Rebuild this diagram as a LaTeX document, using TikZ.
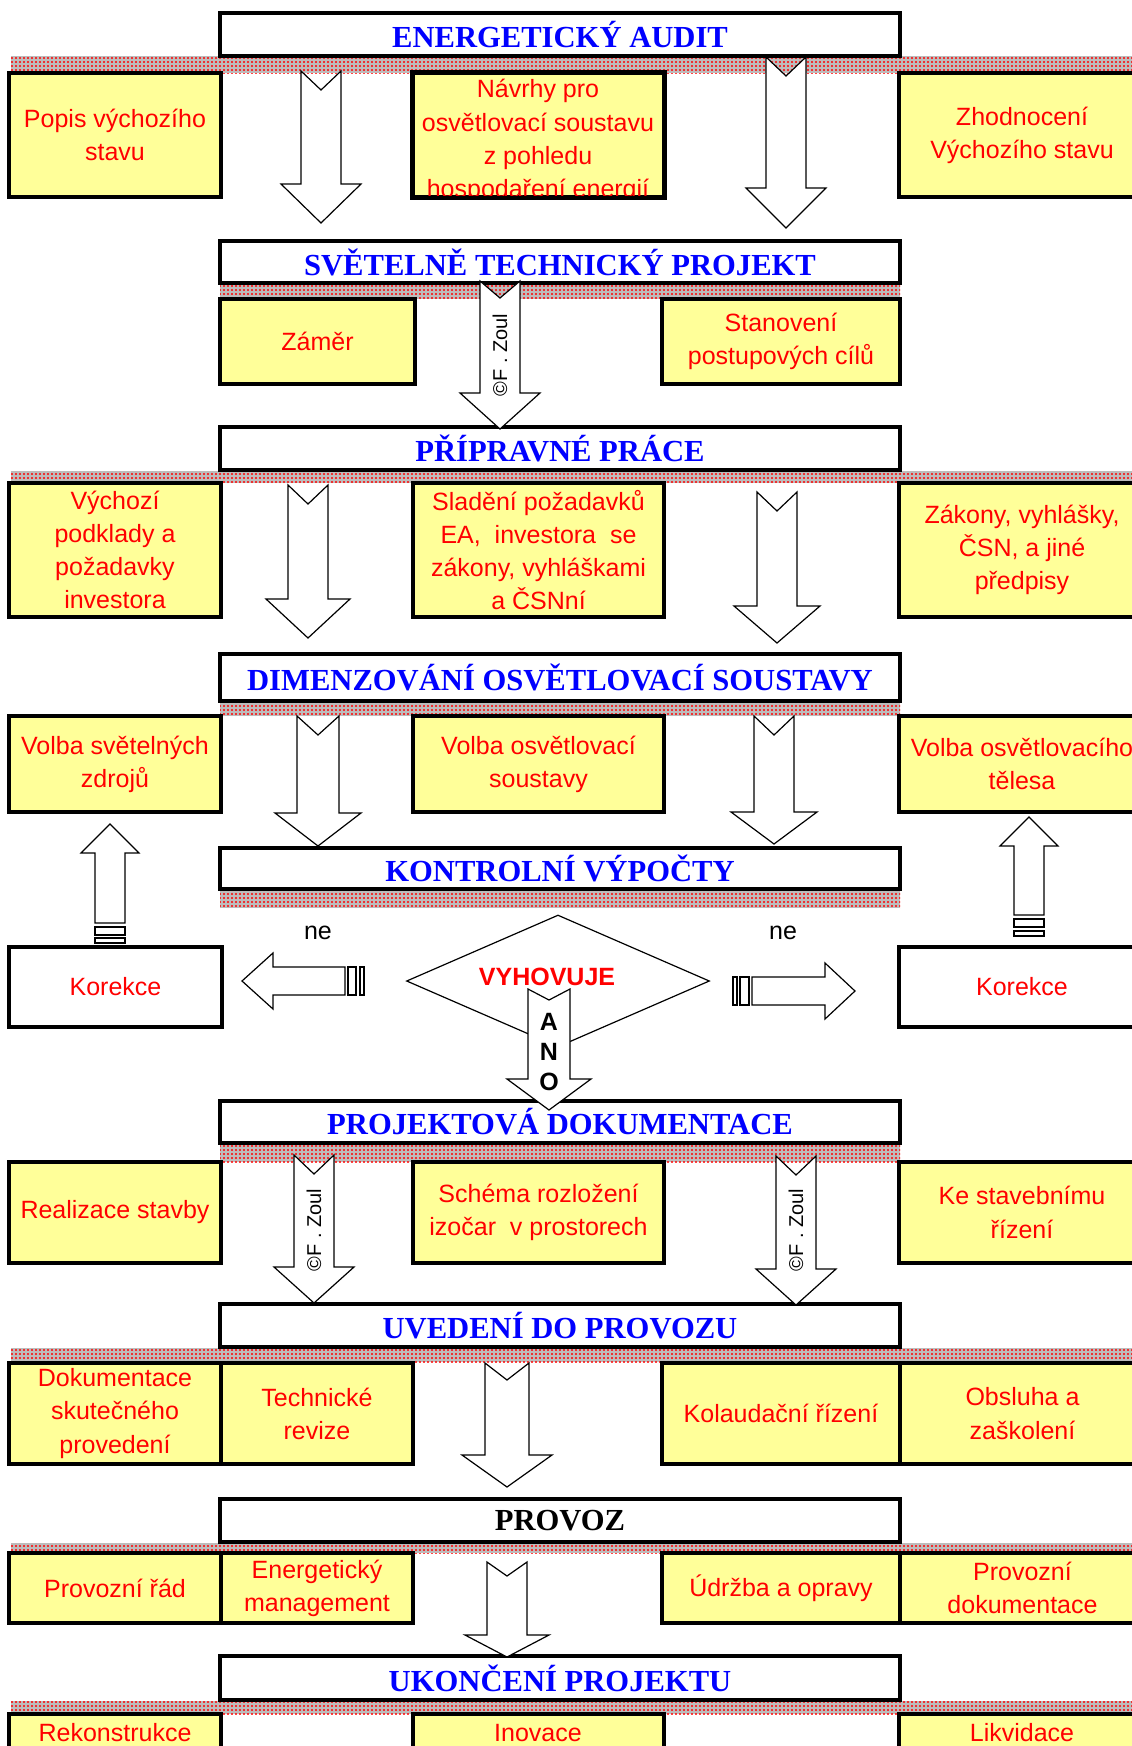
\documentclass[tikz,border=0pt]{standalone}
\usepackage{fontspec}
\setmainfont{Liberation Serif}
\newfontfamily\sansf{Liberation Sans}
\usetikzlibrary{shapes.geometric,patterns.meta}
\definecolor{ylw}{HTML}{FFFF99}
\definecolor{bandgray}{HTML}{BDBDBD}
\definecolor{hblue}{HTML}{0000FF}
\definecolor{tred}{HTML}{FF0000}
\tikzset{
  hdr/.style={draw, line width=1.6pt, fill=white, inner sep=0pt, font=\fontsize{15.3}{18}\selectfont\bfseries, text=hblue},
  ybox/.style={draw, line width=1.6pt, fill=ylw, inner sep=0pt, align=center, font=\sansf\fontsize{12.5}{16.6}\selectfont, text=tred},
  ytext/.style={inner sep=0pt, align=center, font=\sansf\fontsize{12.5}{16.6}\selectfont, text=tred},
  kbox/.style={ybox, fill=white},
  band/.style={preaction={fill=bandgray}, pattern={Dots[distance=2pt, radius=0.55pt]}, pattern color=tred},
  blk/.style={draw=black, line width=0.6pt, fill=white, line join=miter},
  zoul/.style={font=\sansf\fontsize{10}{12}\selectfont, rotate=90, inner sep=0pt},
  lbl/.style={font=\sansf\fontsize{12.5}{15}\selectfont, inner sep=0pt},
  anol/.style={font=\sansf\bfseries\fontsize{12.5}{15}\selectfont, inner sep=0pt},
}
\newcommand\bx[7]{\node[#1, minimum width={(#5-#3)*0.5pt}, minimum height={(#6-#4)*0.5pt}] (#2) at ({(#3+#5)/2},{(#4+#6)/2}) {#7};}
\newcommand\dnarr[8]{\draw[blk] ({#2-#6},#3) -- ({#2},{#3+#8}) -- ({#2+#6},#3) -- ({#2+#6},#4) -- ({#2+#7},#4) -- ({#2},#5) coordinate (#1) -- ({#2-#7},#4) -- ({#2-#6},#4) -- cycle;}
\begin{document}
\begin{tikzpicture}[x=0.5pt,y=-0.5pt]
\useasboundingbox (0,0) rectangle (1131,1746);
% bands
\path[band] (11,56) rectangle (1140,73);
\path[band] (220,284) rectangle (900,299);
\path[band] (11,471) rectangle (1140,483);
\path[band] (220,702) rectangle (900,716);
\path[band] (220,890) rectangle (900,908);
\path[band] (220,1144) rectangle (900,1162);
\path[band] (11,1348) rectangle (1140,1362);
\path[band] (11,1543) rectangle (1140,1553);
\path[band] (11,1701) rectangle (1140,1714);
% row 1
\bx{ybox}{y1a}{9}{73}{221}{197}{Popis výchozího\\stavu}
\bx{ybox}{y1b}{413}{73}{664}{197}{}
\begin{scope}
\clip (415,75) rectangle (662,195);
\node[ytext] (y1bt) at (538,141) {Návrhy pro\\osvětlovací soustavu\\z pohledu\\hospodaření energií};
\end{scope}
\draw[line width=1.6pt] (y1b.south west) rectangle (y1b.north east);
\bx{ybox}{y1c}{899}{73}{1145}{197}{Zhodnocení\\Výchozího stavu}
% row 2
\bx{ybox}{y2a}{220}{299}{415}{384}{Záměr}
\bx{ybox}{y2b}{662}{299}{900}{384}{Stanovení\\postupových cílů}
% row 3
\bx{ybox}{y3a}{9}{483}{221}{617}{Výchozí\\podklady a\\požadavky\\investora}
\bx{ybox}{y3b}{413}{483}{664}{617}{Sladění požadavků\\EA,~ investora~ se\\zákony, vyhláškami\\a ČSNní}
\bx{ybox}{y3c}{899}{483}{1145}{617}{Zákony, vyhlášky,\\ČSN, a jiné\\předpisy}
% row 4
\bx{ybox}{y4a}{9}{716}{221}{812}{Volba světelných\\zdrojů}
\bx{ybox}{y4b}{413}{716}{664}{812}{Volba osvětlovací\\soustavy}
\bx{ybox}{y4c}{899}{716}{1145}{812}{Volba osvětlovacího\\tělesa}
% row 6
\bx{ybox}{y6a}{9}{1162}{221}{1263}{Realizace stavby}
\bx{ybox}{y6b}{413}{1162}{664}{1263}{Schéma rozložení\\izočar~ v prostorech}
\bx{ybox}{y6c}{899}{1162}{1145}{1263}{Ke stavebnímu\\řízení}
% row 7
\bx{ybox}{y7a}{9}{1363}{221}{1464}{Dokumentace\\skutečného\\provedení}
\bx{ybox}{y7b}{221}{1363}{413}{1464}{Technické\\revize}
\bx{ybox}{y7c}{662}{1363}{900}{1464}{Kolaudační řízení}
\bx{ybox}{y7d}{900}{1363}{1145}{1464}{Obsluha a\\zaškolení}
% row 8
\bx{ybox}{y8a}{9}{1553}{221}{1623}{Provozní řád}
\bx{ybox}{y8b}{221}{1553}{413}{1623}{Energetický\\management}
\bx{ybox}{y8c}{662}{1553}{900}{1623}{Údržba a opravy}
\bx{ybox}{y8d}{900}{1553}{1145}{1623}{Provozní\\dokumentace}
% row 9
\bx{ybox}{y9a}{9}{1714}{221}{1800}{}
\bx{ybox}{y9b}{413}{1714}{664}{1800}{}
\bx{ybox}{y9c}{899}{1714}{1145}{1800}{}
\node[ytext] (t9a) at (115,1733) {Rekonstrukce};
\node[ytext] (t9b) at (538,1733) {Inovace};
\node[ytext] (t9c) at (1022,1733) {Likvidace};
% headers
\bx{hdr}{h1}{220}{13}{900}{56}{ENERGETICKÝ AUDIT}
\bx{hdr}{h2}{220}{241}{900}{283}{SVĚTELNĚ TECHNICKÝ PROJEKT}
\bx{hdr}{h3}{220}{427}{900}{470}{PŘÍPRAVNÉ PRÁCE}
\bx{hdr}{h4}{220}{654}{900}{701}{DIMENZOVÁNÍ OSVĚTLOVACÍ SOUSTAVY}
\bx{hdr}{h5}{220}{848}{900}{889}{KONTROLNÍ VÝPOČTY}
\bx{hdr}{h6}{220}{1101}{900}{1143}{PROJEKTOVÁ DOKUMENTACE}
\bx{hdr}{h7}{220}{1304}{900}{1347}{UVEDENÍ DO PROVOZU}
\bx{hdr, text=black}{h8}{220}{1499}{900}{1542}{PROVOZ}
\bx{hdr}{h9}{220}{1656}{900}{1700}{UKONČENÍ PROJEKTU}
% Korekce
\bx{kbox}{k1}{9}{947}{222}{1027}{Korekce}
\bx{kbox}{k2}{899}{947}{1145}{1027}{Korekce}
% decision
\node[draw, diamond, minimum width=151.5pt, minimum height=66pt, inner sep=0pt, line width=0.6pt] (dec) at (558,981) {};
\node[inner sep=0pt, font=\sansf\bfseries\fontsize{12.5}{15}\selectfont, text=tred] (vy) at (547,977) {VYHOVUJE};
% block arrows
\dnarr{a1}{321}{71}{184}{223}{20}{40}{19}
\dnarr{a2}{786}{57}{188}{228}{20}{40}{19}
\dnarr{a3}{500}{281}{393}{429}{20}{40}{17}
\dnarr{a4}{308}{485}{599}{638}{20}{42}{19}
\dnarr{a5}{777}{492}{606}{643}{20}{43}{19}
\dnarr{a6}{318}{716}{813}{846}{21}{43}{19}
\dnarr{a7}{774}{716}{812}{844}{20}{43}{19}
\dnarr{a8}{549}{989}{1079}{1110}{21}{42}{11}
\dnarr{a9}{314}{1155}{1267}{1303}{20}{40}{19}
\dnarr{a10}{796}{1156}{1269}{1305}{20}{40}{19}
\dnarr{a11}{507}{1363}{1455}{1487}{22}{45}{17}
\dnarr{a12}{507}{1562}{1635}{1657}{20}{42}{14}
\node[zoul] (z1) at (500,355) {©F . Zoul};
\node[zoul] (z2) at (314,1230) {©F . Zoul};
\node[zoul] (z3) at (796,1230) {©F . Zoul};
\node[anol] (an1) at (549,1022) {A};
\node[anol] (an2) at (549,1052) {N};
\node[anol] (an3) at (549,1082) {O};
% correction arrows
\draw[blk] (95,923) -- (95,853) -- (81,853) -- (110,824) -- (139,853) -- (125,853) -- (125,923) -- cycle;
\draw[blk] (95,927) rectangle (125,935);
\draw[blk] (95,938) rectangle (125,943);
\draw[blk] (1014,915) -- (1014,846) -- (1000,846) -- (1029,817) -- (1058,846) -- (1044,846) -- (1044,915) -- cycle;
\draw[blk] (1014,919) rectangle (1044,927);
\draw[blk] (1014,931) rectangle (1044,936);
\draw[blk] (345,967) -- (273,967) -- (273,953) -- (242,981) -- (273,1009) -- (273,995) -- (345,995) -- cycle;
\draw[blk] (348,967) rectangle (356,995);
\draw[blk] (360,967) rectangle (364,995);
\draw[blk] (752,977) -- (825,977) -- (825,963) -- (855,991) -- (825,1019) -- (825,1005) -- (752,1005) -- cycle;
\draw[blk] (740,977) rectangle (749,1005);
\draw[blk] (733,977) rectangle (737,1005);
\node[lbl] (ne1) at (318,933) {ne};
\node[lbl] (ne2) at (783,933) {ne};
\end{tikzpicture}
\end{document}
